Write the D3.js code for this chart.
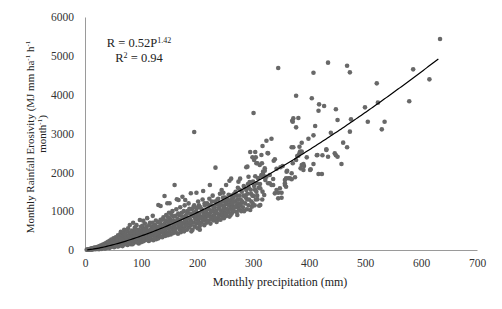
<!DOCTYPE html>
<html>
<head>
<meta charset="utf-8">
<script src="https://cdn.jsdelivr.net/npm/d3@7"></script>
<style>
  body { margin: 0; background: #fff; }
  svg { display: block; font-family: "Liberation Serif", "Times New Roman", serif; }
</style>
</head>
<body>
<svg class="chart"></svg>
<script>
var chartWidth = 502;
var chartHeight = 309;

/******** Data ********/
// [monthly precipitation (mm), monthly rainfall erosivity]
var dryMonths = [
  [3,5],[4,12],[5,8],[6,18],[7,10],[8,25],[9,15],[10,30],[11,8],[12,20],[12,45],[13,35],[14,12],[15,50],
  [16,28],[17,60],[18,40],[19,22],[20,70],[21,48],[22,30],[23,85],[24,60],[25,38],[26,100],[27,72],[28,45],
  [29,120],[30,90],[31,55],[32,140],[33,105],[34,70],[35,160],[35,48],[36,125],[37,85],[38,185],[39,140],
  [40,60],[41,210],[42,160],[43,100],[44,240],[45,75],[45,180],[46,125],[47,270],[48,200],[49,90],[50,150],
  [51,300],[52,230],[53,110],[54,175],[55,330],[56,260],[57,130],[58,200],[59,380],[60,290],[60,95]
];
var midMonths = [
  [61,150],[62,230],[63,410],[64,470],[64,320],[65,115],[66,180],[67,260],[68,440],[69,350],[70,140],[70,520],
  [71,210],[72,290],[73,390],[74,160],[75,480],[75,240],[76,330],[77,560],[78,190],[79,270],[80,644],[80,420],
  [81,360],[82,150],[83,230],[84,500],[85,300],[86,703],[86,400],[87,180],[88,260],[89,580],[90,340],[90,450],
  [91,210],[92,640],[93,300],[94,380],[95,520],[96,170],[97,250],[98,773],[98,420],[99,330],[100,600],[100,200],
  [101,480],[102,280],[103,380],[104,755],[104,540],[105,230],[106,330],[107,680],[108,440],[109,260],[110,590],
  [110,370],[111,820],[112,300],[113,500],[114,230],[115,420],[116,700],[117,350],[118,270],[119,600],[119,460],
  [120,380],[121,880],[122,250],[122,520],[123,420],[124,640],[125,644],[125,330],[126,460],[127,280],[128,560],
  [129,390],[130,720],[130,480],[131,1159],[131,300],[132,600],[133,430],[134,350],[135,1133],[135,780],[136,520],
  [137,620],[138,330],[139,460],[140,840],[140,560],[141,400],[142,1390],[142,680],[143,360],[144,500],[145,900],
  [145,620],[146,440],[147,1202],[147,740],[148,380],[149,560],[150,960],[150,660],[151,1202],[151,470],[152,800],
  [153,400],[154,580],[155,700],[156,1000],[156,520],[157,430],[158,860],[159,620],[160,1674],[160,740],[161,480],
  [162,560],[163,1050],[164,1305],[164,680],[165,800],[166,420],[167,1288],[167,620],[168,900],[169,520],[170,740],
  [170,1100],[171,460],[172,660],[173,960],[174,1373],[174,560],[175,820],[176,700],[177,480],[178,1150],[179,1288],
  [179,620],[180,880],[181,760],[182,520],[183,1000],[184,680],[185,1200],[186,580],[187,820],[188,940],[189,1460],
  [189,640],[190,740],[191,1050],[192,520],[193,880],[194,700],[195,3038],[195,1150],[196,600],[197,960],[198,780],
  [199,1476],[199,680],[200,1080],[200,860]
];
// more months inside the dense band
var bandMonths = [
  [8.5,20],[13.5,28],[17.5,45],[22.5,55],[26.5,80],[31.5,95],[34.5,130],[38.5,110],[42.5,190],[46.5,150],
  [49.5,220],[53.5,190],[57.5,260],[62.5,200],[65.5,330],[68.5,250],[71.5,400],[74.5,300],[77.5,360],[81.5,460],
  [84.5,270],[87.5,420],[90.5,520],[93.5,460],[96.5,350],[99.5,500],[102.5,620],[105.5,420],[108.5,560],[111.5,480],
  [114.5,640],[117.5,520],[120.5,700],[123.5,560],[126.5,760],[129.5,600],[132.5,520],[134.5,680],[137.5,780],
  [139.5,640],[141.5,560],[143.5,760],[146.5,600],[148.5,840],[152.5,680],[154.5,900],[157.5,760],[159.5,560],
  [161.5,880],[163.5,700],[166.5,940],[168.5,780],[171.5,600],[173.5,860],[176.5,1000],[178.5,740],[181.5,920],
  [183.5,820],[186.5,1060],[188.5,760],[191.5,900],[193.5,1100],[196.5,820],[198.5,1000],[201.5,920],[203.5,1150],
  [206.5,860],[208.5,1050],[211.5,980],[213.5,1200],[216.5,900],[218.5,1050],[221.5,1150],[223.5,860],[226.5,1250],
  [228.5,1000],[231.5,1100],[233.5,950],[236.5,1300],[238.5,1080],[241.5,1200],[243.5,1000],[246.5,1350],
  [248.5,1100],[251.5,1250],[253.5,1050],[256.5,1420],[258.5,1150],[261.5,1300],[263.5,1000],[266.5,1450],
  [268.5,1250],[271.5,1400],[273.5,1100],[276.5,1550],[278.5,1200],[283.5,1650],[286.5,1400],[289.5,1300],
  [292.5,1600],[296.5,1450],[299.5,1200],[303.5,1550],[307.5,1400],[312.5,1700],[316.5,1300],
  [25,20],[30,30],[36,40],[44,55],[52,70],[58,90],[67,100],[76,130],[85,150],[94,190],[103,220],[112,260],
  [124,300],[136,340],[148,400],[162,450],[176,520],[190,480],[205,520],[218,720],[232,800],[246,880],[260,900],
  [272,900],[56.5,120],[63.5,280],[79.5,210],[88.5,340],[97.5,290],[106.5,520],[115.5,330],[127.5,430],
  [138.5,500],[149.5,720],[158.5,650],[169.5,660],[180.5,640],[187.5,700],[194.5,960],[202.5,780],[209.5,840],
  [215.5,760],[224.5,1020],[229.5,880],[237.5,780],[242.5,900],[249.5,960],[254.5,1180],[262.5,1150]
];
var wetMonths = [
  [201,560],[202,1250],[203,720],[204,940],[205,620],[206,1100],[207,820],[208,700],[209,1000],[210,1300],
  [211,1519],[211,760],[212,900],[213,640],[214,1150],[215,820],[216,980],[217,700],[218,1200],[219,880],[220,1060],
  [221,760],[222,1320],[223,1674],[223,940],[224,680],[225,1150],[226,820],[227,1000],[228,1400],[229,760],[230,1100],
  [231,900],[232,1250],[233,2120],[233,820],[234,1000],[235,720],[236,1180],[237,940],[238,1320],[239,860],[240,1060],
  [241,1450],[242,780],[243,1150],[244,1545],[244,960],[245,880],[246,1250],[247,1476],[247,1040],[248,820],[249,1150],
  [250,1350],[251,940],[252,1674],[252,1200],[253,880],[254,1050],[255,1300],[256,980],[257,1150],[258,1785],[258,860],
  [259,1250],[260,1060],[261,1837],[261,1400],[262,940],[263,1200],[264,1100],[265,1350],[266,1000],[267,1250],
  [268,1099],[269,1500],[270,1150],[271,980],[272,1300],[273,1600],[274,1760],[274,1200],[275,1050],[276,1400],
  [277,1837],[277,1150],[278,1300],[279,1000],[280,1500],
  [281,1250],[282,1100],[283,1400],[284,1000],[285,1600],[286,1200],[287,1350],[288,1545],[289,1050],[290,1450],
  [291,1700],[292,1150],[293,1300],[294,1750],[295,1030],[296,1550],[297,1250],[298,1116],[299,1400],[300,1760],
  [301,1390],[302,1650],[303,1150],[304,1900],[305,1300],[306,1500],[307,1717],[308,1305],[309,1850],[310,1600],
  [311,1141],[313,1588],[313,1159],[315,1906],[317,1502],[318,2017],[320,1416],[322,1800],[324,1888],[327,1717],
  [330,1931],[333,1674],[339,1459],[345,1330],[348,1588],[351,1476],[357,1803],[360,2017],[363,1846],[369,1975],
  [353,2163]
];
var stormMonths = [
  [301,3528],[345,4687],[434,4824],[468,4746],[473,4575],[408,4566],[634,5433],[586,4652],[615,4395],[521,4292],
  [523,3794],[579,3829],[500,3674],[475,3365],[505,3304],[535,3304],[473,3047],[530,3107],[461,2764],[468,2644],
  [377,3974],[405,3906],[418,3751],[427,3708],[417,3587],[448,3623],[372,3391],[381,3399],[370,3330],[451,3348],
  [377,3159],[411,3193],[408,2953],[439,3021],[399,2866],[387,2763],[324,2815],[333,2866],[317,2678],[372,2644],
  [384,2532],[327,2489],[315,2446],[431,2592],[446,2489],[451,2403],[414,2438],[424,2438],[434,2403],[396,2386],
  [381,2429],[377,2318],[337,2300],[349,2129],[342,2094],[458,2215],[371,2232],[390,2215],[385,2103],[408,2215],
  [361,2042],[390,2060],[403,2077],[321,2042],[417,1957],[423,1957],[359,1846],[366,1846],[375,1872],[357,1674],
  [359,1630],[336,1829],[351,1347],[345,1476],[342,1545],[330,1717],[336,1674],[357,1717],[318,1888],[315,1931],
  [321,2103],[312,2189],[302,2318],[306,2232],[339,2335],[387,2189],[402,2060],[448,2440],[371,3304],[383,2489],
  [387,2532],[379,2420],[415,2446],[431,2575],[391,2163],[369,1820],[369,2644],[383,2660],[295,2524],[304,2524],
  [326,2498],[299,2386],[305,2386],[290,2146],[308,2232],[316,2232],[318,1949],[292,1888],[288,2129]
];

// power fit shown on the chart: R = a * P^b
var fitCoef = 0.52;
var fitExp = 1.42;
var fitRange = [4, 633];

var xTicks = [0, 100, 200, 300, 400, 500, 600, 700];
var yTicks = [0, 1000, 2000, 3000, 4000, 5000, 6000];

/******** Scales ********/
var x = d3.scaleLinear().domain([0, 700]).range([85, 477]);
var y = d3.scaleLinear().domain([0, 6000]).range([250, 17]);

var canvas = d3.select(".chart")
  .attr("width", chartWidth)
  .attr("height", chartHeight);

/******** Axes ********/
var xAxis = d3.axisBottom(x).tickValues(xTicks).tickSize(0).tickPadding(9).tickFormat(d3.format("d"));
var yAxis = d3.axisLeft(y).tickValues(yTicks).tickSize(0).tickPadding(11).tickFormat(d3.format("d"));

var xAxisGroup = canvas.append("g")
  .attr("transform", "translate(0,250)")
  .call(xAxis);
var yAxisGroup = canvas.append("g")
  .attr("transform", "translate(85,0)")
  .call(yAxis);

[xAxisGroup, yAxisGroup].forEach(function (g) {
  g.select(".domain").attr("stroke", "#9a9a9a").attr("stroke-width", 1);
  g.selectAll("text")
    .attr("font-family", "Liberation Serif, serif")
    .attr("font-size", 11.5)
    .attr("fill", "#333");
});

/******** Points ********/
var allPoints = dryMonths.concat(midMonths, bandMonths, wetMonths, stormMonths);

canvas.append("g")
  .selectAll("circle")
  .data(allPoints)
  .enter()
  .append("circle")
  .attr("cx", d => x(d[0]))
  .attr("cy", d => y(d[1]))
  .attr("r", 2.3)
  .attr("fill", "#686868");

/******** Trend line ********/
var fitPoints = d3.range(fitRange[0], fitRange[1] + 1, 3).map(p => [p, fitCoef * Math.pow(p, fitExp)]);

canvas.append("path")
  .datum(fitPoints)
  .attr("fill", "none")
  .attr("stroke", "#000")
  .attr("stroke-width", 1.2)
  .attr("d", d3.line().x(d => x(d[0])).y(d => y(d[1])));

/******** Labels ********/
var eq = canvas.append("text")
  .attr("x", 139)
  .attr("y", 47)
  .attr("text-anchor", "middle")
  .attr("font-size", 12.5)
  .attr("fill", "#222");
eq.append("tspan").text("R = " + fitCoef + "P");
eq.append("tspan").attr("font-size", 8).attr("dy", -4).text(fitExp);

var r2 = canvas.append("text")
  .attr("x", 139)
  .attr("y", 62)
  .attr("text-anchor", "middle")
  .attr("font-size", 12.5)
  .attr("fill", "#222");
r2.append("tspan").text("R");
r2.append("tspan").attr("font-size", 8).attr("dy", -4).text("2");
r2.append("tspan").attr("dy", 4).text(" = 0.94");

canvas.append("text")
  .attr("x", 280)
  .attr("y", 286)
  .attr("text-anchor", "middle")
  .attr("font-size", 12)
  .attr("fill", "#222")
  .text("Monthly precipitation (mm)");

var yTitle = canvas.append("text")
  .attr("transform", "translate(34,137) rotate(-90)")
  .attr("text-anchor", "middle")
  .attr("font-size", 11)
  .attr("fill", "#222");
yTitle.append("tspan").text("Monthly Rainfall Erosivity (MJ mm ha");
yTitle.append("tspan").attr("font-size", 7).attr("dy", -4).text("-1");
yTitle.append("tspan").attr("dy", 4).text(" h");
yTitle.append("tspan").attr("font-size", 7).attr("dy", -4).text("-1");

var yTitle2 = canvas.append("text")
  .attr("transform", "translate(46,134) rotate(-90)")
  .attr("text-anchor", "middle")
  .attr("font-size", 11)
  .attr("fill", "#222");
yTitle2.append("tspan").text("month");
yTitle2.append("tspan").attr("font-size", 7).attr("dy", -4).text("-1");
yTitle2.append("tspan").attr("dy", 4).text(")");
</script>
</body>
</html>
